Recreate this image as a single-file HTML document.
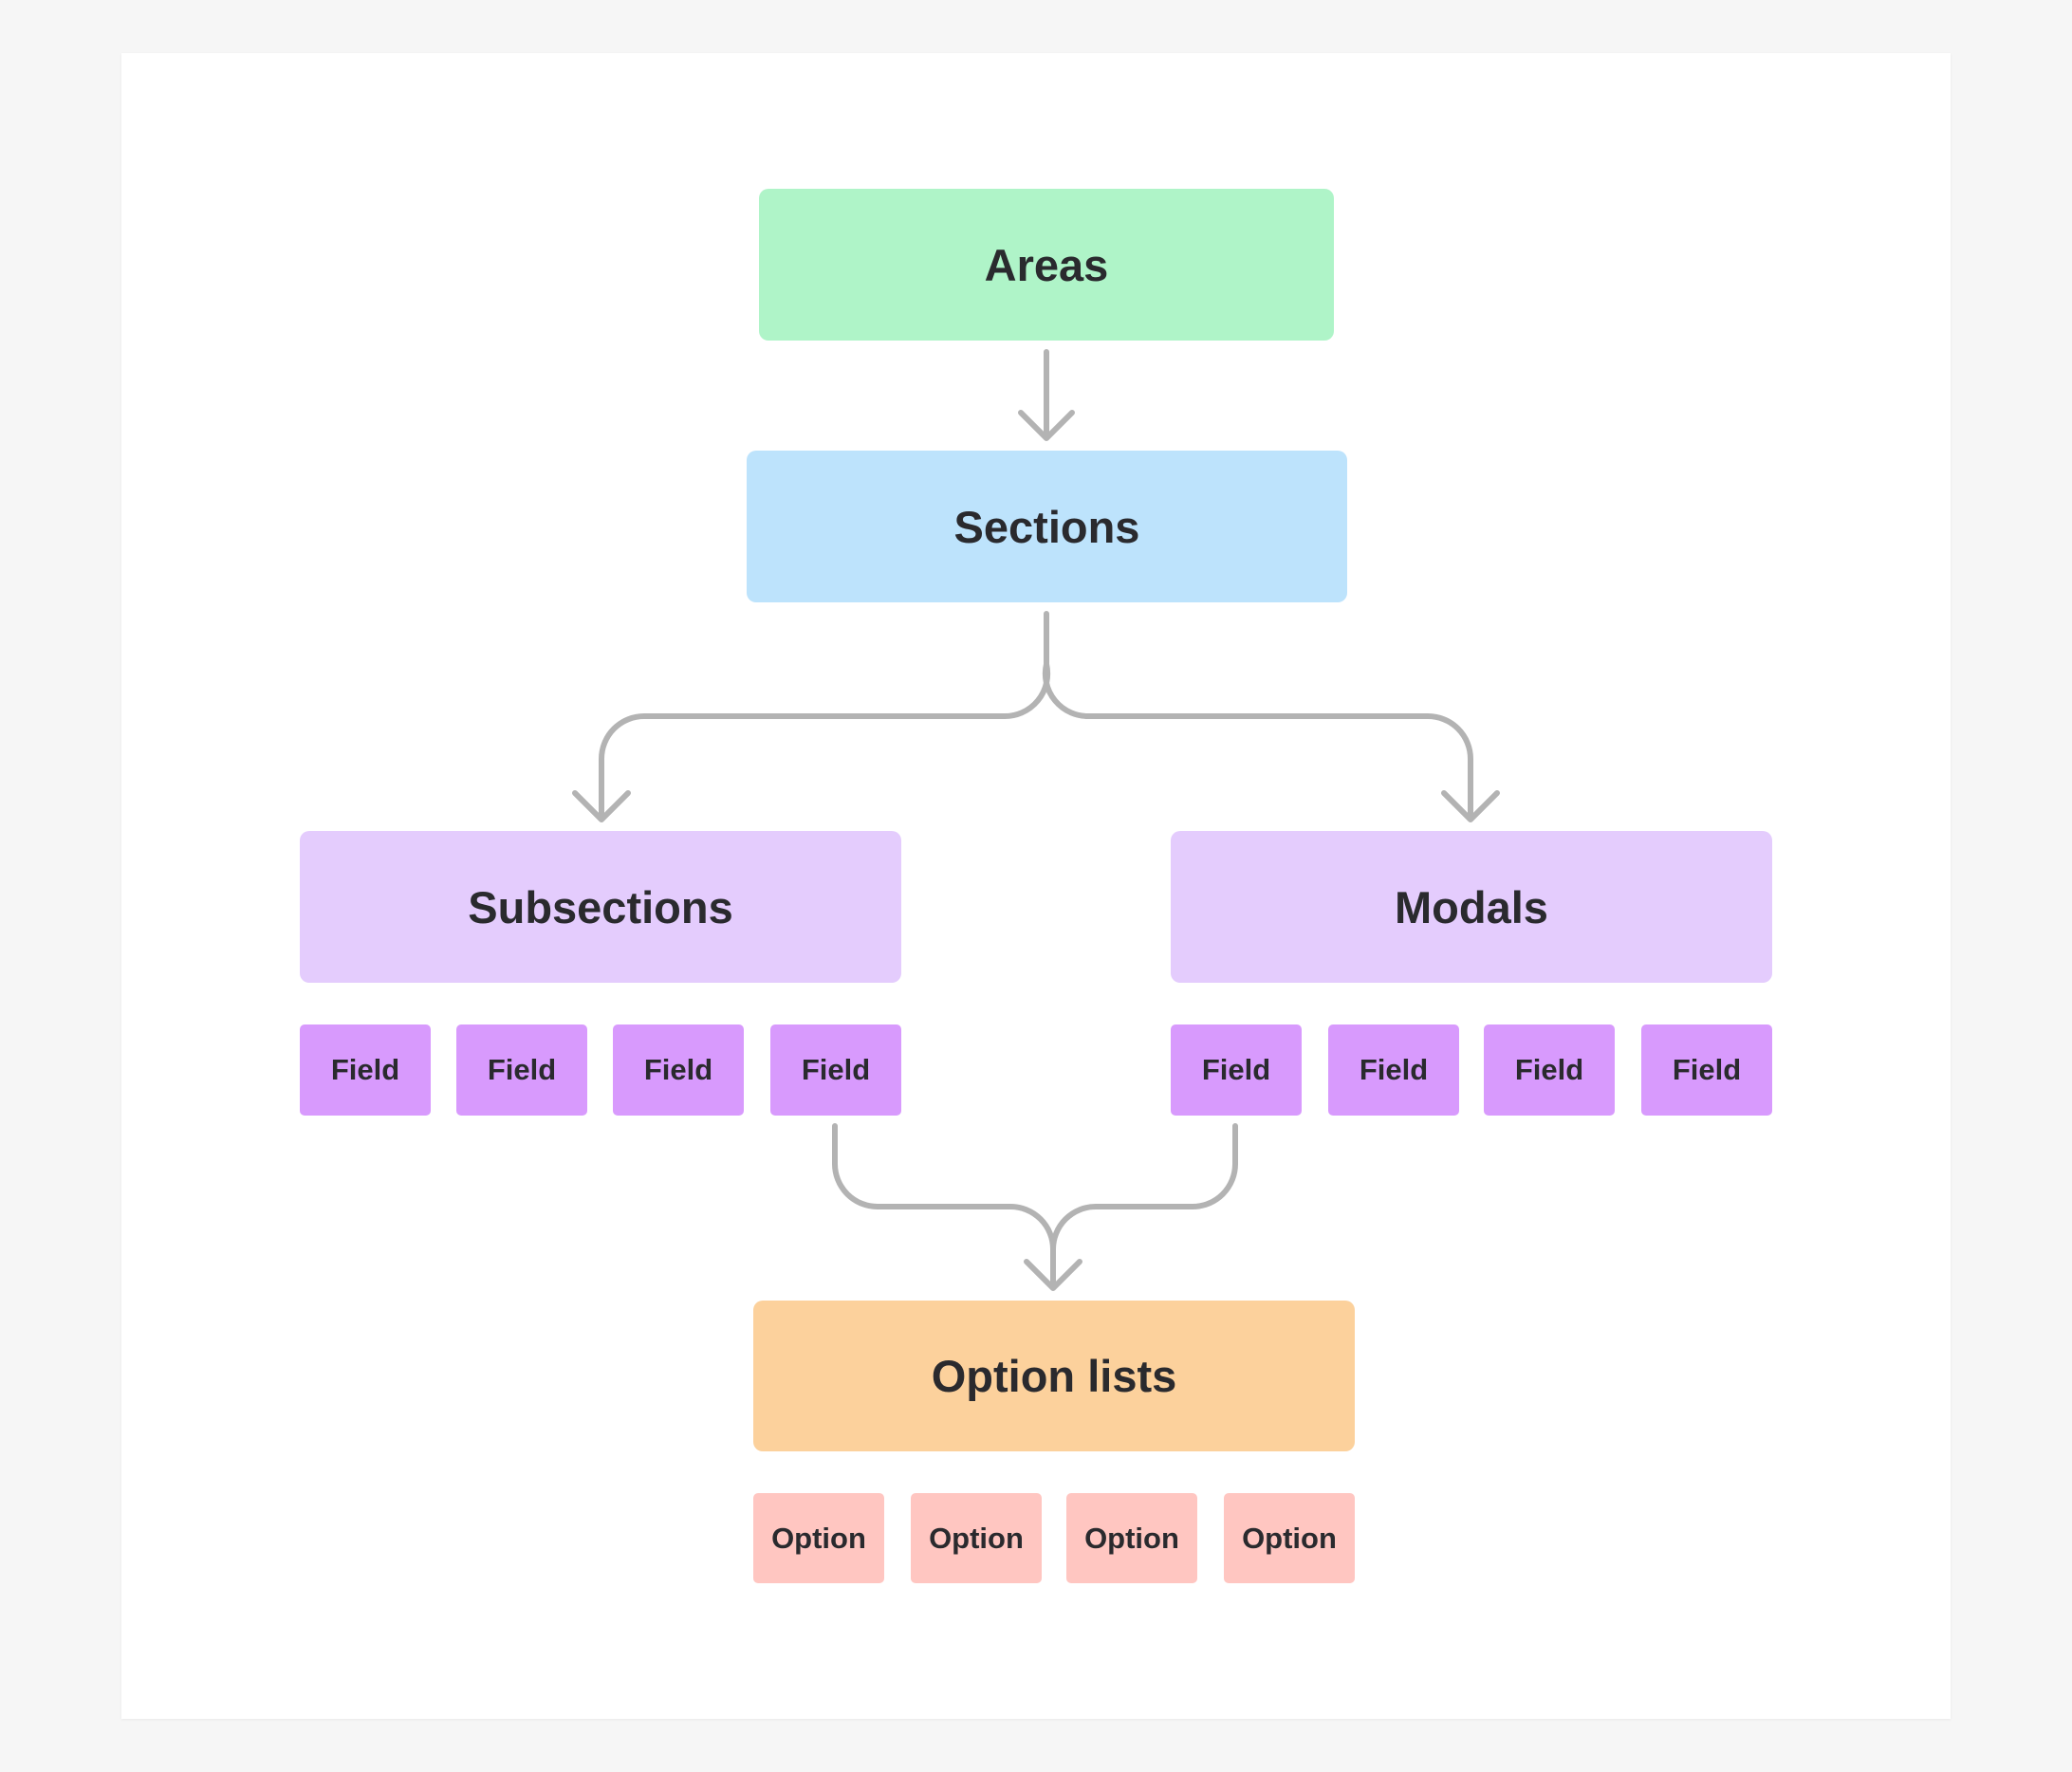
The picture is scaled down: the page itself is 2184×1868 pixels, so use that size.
<!DOCTYPE html>
<html><head><meta charset="utf-8"><style>
html,body{margin:0;padding:0;}
body{width:2184px;height:1868px;background:#f6f6f6;position:relative;font-family:"Liberation Sans",sans-serif;overflow:hidden}
.card{position:absolute;left:128px;top:56px;width:1928px;height:1756px;background:#fff;box-shadow:0 1px 3px rgba(0,0,0,0.06)}
.b{position:absolute;display:flex;align-items:center;justify-content:center;font-weight:bold;color:#2a2a2e;border-radius:10px}
.big{font-size:47px}
.sm{font-size:31px;border-radius:5px;width:138px}
svg{position:absolute;left:0;top:0}
</style></head><body>
<div class="card"></div>
<div class="b big" style="left:800px;top:199px;width:606px;height:160px;background:#aff4c8">Areas</div>
<div class="b big" style="left:787px;top:475px;width:633px;height:160px;background:#bde3fc">Sections</div>
<div class="b big" style="left:316px;top:876px;width:634px;height:160px;background:#e4ccfd">Subsections</div>
<div class="b big" style="left:1234px;top:876px;width:634px;height:160px;background:#e4ccfd">Modals</div>
<div class="b sm" style="left:316px;top:1080px;height:96px;background:#d89afd">Field</div>
<div class="b sm" style="left:481px;top:1080px;height:96px;background:#d89afd">Field</div>
<div class="b sm" style="left:646px;top:1080px;height:96px;background:#d89afd">Field</div>
<div class="b sm" style="left:812px;top:1080px;height:96px;background:#d89afd">Field</div>
<div class="b sm" style="left:1234px;top:1080px;height:96px;background:#d89afd">Field</div>
<div class="b sm" style="left:1400px;top:1080px;height:96px;background:#d89afd">Field</div>
<div class="b sm" style="left:1564px;top:1080px;height:96px;background:#d89afd">Field</div>
<div class="b sm" style="left:1730px;top:1080px;height:96px;background:#d89afd">Field</div>
<div class="b big" style="left:794px;top:1371px;width:634px;height:159px;background:#fcd19c">Option lists</div>
<div class="b sm" style="left:794px;top:1574px;height:95px;background:#ffc6c1">Option</div>
<div class="b sm" style="left:960px;top:1574px;height:95px;background:#ffc6c1">Option</div>
<div class="b sm" style="left:1124px;top:1574px;height:95px;background:#ffc6c1">Option</div>
<div class="b sm" style="left:1290px;top:1574px;height:95px;background:#ffc6c1">Option</div>
<svg width="2184" height="1868" fill="none" stroke="#b3b3b3" stroke-width="6" stroke-linecap="round" stroke-linejoin="round">
<path d="M1103 371V462M1076 435L1103 462L1130 435"/>
<path d="M1103 647V700A45 45 0 0 1 1058 755H679A45 45 0 0 0 634 800V864M606 836L634 864L662 836"/>
<path d="M1103 700A45 45 0 0 0 1148 755H1505A45 45 0 0 1 1550 800V864M1522 836L1550 864L1578 836"/>
<path d="M880 1187V1227A45 45 0 0 0 925 1272H1065A45 45 0 0 1 1110 1317V1358M1082 1330L1110 1358L1138 1330"/>
<path d="M1302 1187V1227A45 45 0 0 1 1257 1272H1155A45 45 0 0 0 1110 1317"/>
</svg>
</body></html>
